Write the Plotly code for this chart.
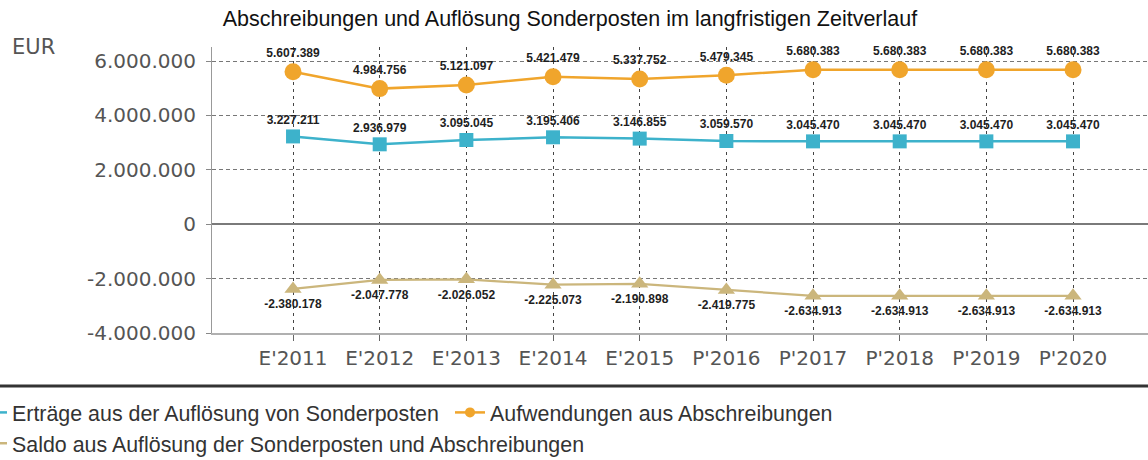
import plotly.graph_objects as go

categories = ["E'2011", "E'2012", "E'2013", "E'2014", "E'2015",
              "P'2016", "P'2017", "P'2018", "P'2019", "P'2020"]
ertraege = [3227211, 2936979, 3095045, 3195406, 3146855,
            3059570, 3045470, 3045470, 3045470, 3045470]
aufwendungen = [5607389, 4984756, 5121097, 5421479, 5337752,
                5479345, 5680383, 5680383, 5680383, 5680383]
saldo = [-2380178, -2047778, -2026052, -2225073, -2190898,
         -2419775, -2634913, -2634913, -2634913, -2634913]
y_ticks = [-4000000, -2000000, 0, 2000000, 4000000, 6000000]

names = ["Erträge aus der Auflösung von Sonderposten",
         "Aufwendungen aus Abschreibungen",
         "Saldo aus Auflösung der Sonderposten und Abschreibungen"]


def de(v):
    return f"{v:,}".replace(",", ".")


W, H = 1148, 460
L, R, T, B = 212, 0, 47, 127
PW, PH = W - L - R, H - T - B

c_blue = "#3DB2CB"
c_orange = "#F0A52C"
c_tan = "#CBB67C"
lab_font = dict(family="Liberation Sans, Arial", size=12, color="#1e1e1e", weight="bold")

series = [
    (names[0], ertraege, c_blue, "square", 14, 2.5, "top center"),
    (names[1], aufwendungen, c_orange, "circle", 17, 2.5, "top center"),
    (names[2], saldo, c_tan, "triangle-up", 15, 2.2, "bottom center"),
]

fig = go.Figure()
for name, vals, col, sym, msize, lw, tpos in series:
    fig.add_trace(go.Scatter(
        x=categories, y=vals, name=name, mode="lines+markers+text",
        line=dict(color=col, width=lw),
        marker=dict(symbol=sym, size=msize, color=col),
        text=[de(v) for v in vals], textposition=tpos,
        textfont=lab_font, cliponaxis=False, showlegend=False))
# legend entries with smaller symbols (as in the original legend)
for name, vals, col, sym, msize, lw, tpos in series:
    fig.add_trace(go.Scatter(
        x=[None], y=[None], name=name, mode="lines+markers",
        line=dict(color=col, width=2.5),
        marker=dict(symbol=sym, size=10, color=col), showlegend=True))

tick_font = dict(family="DejaVu Sans", size=20, color="#555555")

fig.update_layout(
    width=W, height=H,
    margin=dict(l=L, r=R, t=T, b=B, autoexpand=False),
    paper_bgcolor="white", plot_bgcolor="white",
    title=dict(text="Abschreibungen und Auflösung Sonderposten im langfristigen Zeitverlauf",
               x=570 / W, xref="container", xanchor="center",
               y=1 - 18 / H, yref="container", yanchor="middle",
               font=dict(family="Liberation Sans, Arial", size=21.5, color="#111111")),
    xaxis=dict(type="category", range=[-0.935, 9.865],
               showgrid=True, gridcolor="#444444", griddash="3px,4px", gridwidth=1,
               showline=True, linecolor="#b0b0b0", linewidth=2,
               ticks="outside", ticklen=6, tickcolor="#666666",
               tickfont=tick_font, zeroline=False, fixedrange=True),
    yaxis=dict(range=[-4000000, 6515000],
               tickvals=y_ticks, ticktext=[de(v) for v in y_ticks],
               showgrid=True, gridcolor="#777777", griddash="4px,3px", gridwidth=1,
               zeroline=True, zerolinecolor="#7a7a7a", zerolinewidth=1.5,
               showline=True, linecolor="#999999", linewidth=1,
               ticks="outside", ticklen=5, tickcolor="#888888",
               tickfont=tick_font, ticklabelstandoff=6, fixedrange=True),
    showlegend=True,
    legend=dict(orientation="h", x=(-28 - L) / PW, xanchor="left",
                y=(H - B - 392) / PH, yanchor="top",
                entrywidth=433, entrywidthmode="pixels",
                font=dict(family="Liberation Sans, Arial", size=21.4, color="#333333"),
                bgcolor="rgba(0,0,0,0)", traceorder="normal"),
    annotations=[dict(text="EUR", xref="paper", yref="paper",
                      x=(10 - L) / PW, xanchor="left",
                      y=(H - B - 47) / PH, yanchor="middle", showarrow=False,
                      font=dict(family="DejaVu Sans", size=21, color="#555555"))],
    shapes=[dict(type="line", xref="paper", yref="paper",
                 x0=-L / PW, x1=1, y0=(H - B - 386) / PH, y1=(H - B - 386) / PH,
                 line=dict(color="#333333", width=3))],
)

fig.write_html("out.html", config={"displayModeBar": False},
               post_script="document.body.style.margin='0';document.body.style.overflow='hidden';")
